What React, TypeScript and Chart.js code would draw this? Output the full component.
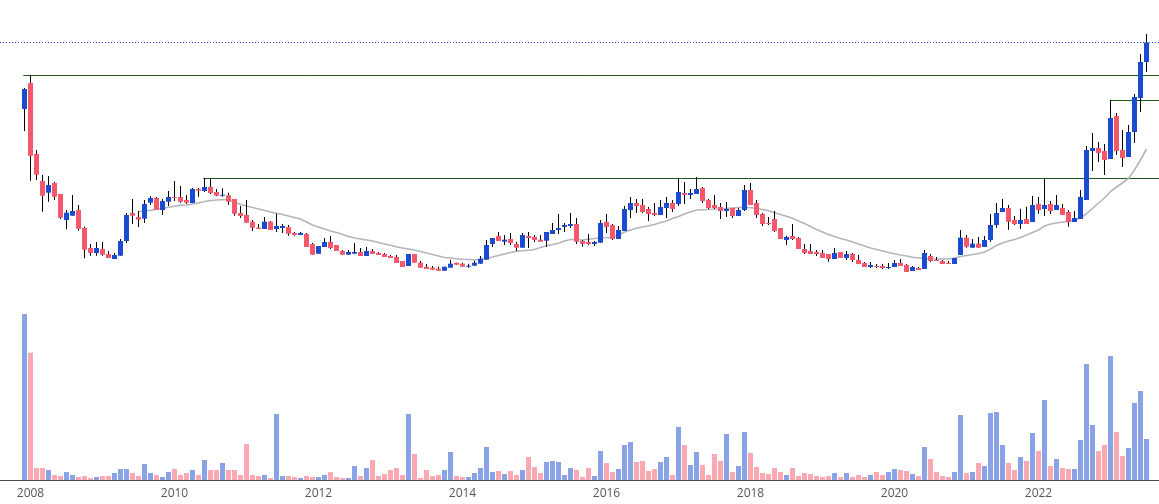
import React, { useEffect, useRef } from 'react';
import { Chart, registerables } from 'chart.js';

Chart.register(...registerables);

// Monthly bars: index 0 = Dec 2007 ... index 187 = Jul 2023
const tickIndex = [1, 25, 49, 73, 97, 121, 145, 169];
const tickLabels = ['2008', '2010', '2012', '2014', '2016', '2018', '2020', '2022'];

const open = [
  1910, 2170, 1460, 1190, 1073, 1170, 1060, 800, 843, 900,
  720, 520, 470, 510, 460, 410, 443, 590, 870, 830,
  813, 973, 1020, 900, 983, 1030, 1030, 1000, 970, 1110,
  1090, 1130, 1080, 1043, 1047, 1010, 870, 850, 783, 723,
  710, 783, 710, 720, 730, 670, 650, 660, 560, 463,
  530, 580, 550, 490, 453, 463, 480, 440, 490, 470,
  460, 440, 430, 390, 340, 460, 373, 333, 323, 313,
  293, 323, 373, 363, 333, 343, 363, 403, 560, 640,
  583, 610, 560, 523, 640, 630, 603, 593, 660, 700,
  730, 740, 760, 590, 580, 560, 573, 780, 750, 610,
  690, 900, 970, 950, 910, 870, 850, 920, 970, 960,
  1070, 1050, 1060, 1120, 1000, 950, 930, 890, 920, 840,
  900, 1100, 970, 860, 770, 810, 720, 600, 640, 620,
  510, 490, 480, 470, 460, 410, 480, 420, 460, 400,
  370, 330, 340, 340, 320, 330, 370, 350, 290, 320,
  310, 440, 400, 390, 370, 360, 450, 623, 523, 563,
  530, 600, 750, 880, 920, 800, 760, 810, 780, 960,
  910, 960, 900, 920, 880, 780, 810, 1000, 1490, 1520,
  1490, 1410, 1840, 1500, 1430, 1680, 2020, 2380,
];

const high = [
  2120, 2250, 1500, 1250, 1240, 1183, 1060, 900, 1050, 950,
  733, 560, 580, 580, 490, 470, 610, 870, 1010, 890,
  1000, 1040, 1030, 1010, 1090, 1190, 1140, 1050, 1120, 1120,
  1220, 1220, 1110, 1117, 1073, 1010, 940, 1000, 800, 760,
  830, 790, 863, 760, 750, 680, 680, 670, 570, 540,
  620, 640, 550, 500, 500, 570, 520, 530, 510, 480,
  470, 450, 450, 390, 460, 460, 390, 360, 340, 333,
  333, 403, 373, 373, 363, 393, 440, 600, 620, 680,
  650, 670, 580, 670, 680, 650, 650, 680, 770, 860,
  770, 870, 820, 600, 660, 590, 800, 860, 760, 740,
  940, 1030, 1010, 1010, 930, 970, 1000, 1030, 1000, 1220,
  1180, 1110, 1230, 1130, 1010, 1050, 970, 980, 920, 920,
  1150, 1170, 1000, 870, 830, 890, 720, 640, 760, 630,
  560, 560, 500, 500, 460, 520, 480, 490, 470, 450,
  380, 380, 360, 360, 370, 400, 410, 360, 340, 330,
  500, 460, 430, 400, 390, 420, 700, 650, 610, 630,
  640, 860, 970, 1010, 950, 840, 913, 933, 1040, 1030,
  1220, 990, 1050, 960, 900, 890, 1100, 1540, 1670, 1580,
  1560, 2000, 1870, 1700, 1750, 2060, 2460, 2660,
];

const low = [
  1690, 1193, 1200, 883, 983, 1000, 810, 707, 843, 693,
  417, 443, 443, 443, 420, 410, 443, 570, 760, 730,
  770, 950, 900, 850, 940, 990, 973, 960, 970, 1033,
  1080, 1060, 1037, 1033, 953, 843, 820, 773, 690, 710,
  710, 700, 680, 670, 643, 643, 650, 530, 453, 460,
  530, 510, 490, 453, 453, 463, 440, 440, 460, 450,
  430, 420, 370, 330, 340, 373, 323, 310, 303, 293,
  293, 323, 353, 333, 323, 343, 363, 403, 530, 590,
  550, 550, 490, 523, 520, 580, 583, 530, 660, 660,
  680, 720, 560, 533, 550, 540, 573, 670, 600, 610,
  690, 820, 870, 870, 790, 840, 850, 820, 880, 940,
  960, 1010, 1060, 970, 910, 910, 810, 830, 820, 840,
  890, 950, 820, 740, 750, 680, 610, 550, 600, 510,
  460, 460, 440, 420, 383, 410, 420, 400, 380, 360,
  330, 320, 320, 310, 310, 330, 340, 280, 290, 300,
  310, 380, 390, 360, 360, 360, 450, 523, 523, 523,
  530, 583, 723, 880, 703, 750, 710, 760, 780, 863,
  840, 860, 900, 850, 733, 780, 810, 1000, 1290, 1380,
  1250, 1410, 1450, 1330, 1430, 1570, 1880, 2280,
];

const close = [
  2110, 1443, 1253, 1043, 1150, 1033, 823, 873, 890, 713,
  503, 470, 520, 453, 420, 450, 590, 850, 843, 803,
  960, 1020, 900, 990, 1030, 1020, 983, 973, 1110, 1093,
  1130, 1070, 1043, 1053, 983, 863, 840, 773, 723, 710,
  783, 700, 740, 740, 663, 650, 670, 530, 453, 540,
  580, 520, 490, 453, 480, 480, 440, 490, 460, 450,
  430, 420, 370, 330, 460, 373, 323, 310, 303, 293,
  333, 363, 353, 333, 343, 373, 413, 550, 620, 590,
  603, 570, 523, 650, 620, 600, 583, 680, 700, 720,
  750, 760, 583, 560, 560, 580, 770, 730, 610, 700,
  910, 970, 940, 880, 860, 850, 930, 970, 910, 1080,
  1050, 1070, 1110, 990, 920, 920, 890, 910, 840, 900,
  1100, 950, 850, 760, 760, 690, 610, 630, 610, 510,
  470, 460, 460, 420, 410, 470, 420, 460, 400, 360,
  330, 350, 330, 320, 330, 370, 340, 280, 330, 300,
  470, 390, 390, 360, 360, 420, 623, 533, 563, 523,
  600, 750, 870, 920, 783, 760, 800, 760, 950, 900,
  950, 890, 950, 850, 780, 820, 1030, 1500, 1520, 1470,
  1400, 1820, 1490, 1420, 1680, 2030, 2380, 2575,
];

const volume = [
  1660, 1273, 120, 120, 100, 50, 40, 80, 50, 30,
  40, 20, 30, 40, 40, 70, 110, 110, 70, 40,
  160, 70, 50, 30, 80, 110, 50, 70, 100, 50,
  200, 100, 100, 170, 100, 100, 50, 360, 50, 40,
  50, 20, 660, 40, 40, 30, 20, 40, 30, 30,
  50, 80, 30, 20, 20, 140, 40, 120, 200, 40,
  60, 100, 120, 50, 660, 260, 20, 100, 40, 50,
  100, 280, 40, 30, 30, 70, 120, 330, 80, 90,
  60, 90, 50, 100, 230, 130, 70, 180, 190, 180,
  50, 120, 100, 30, 120, 40, 290, 170, 80, 110,
  350, 380, 180, 190, 90, 110, 180, 230, 50, 530,
  350, 150, 280, 150, 50, 260, 190, 460, 80, 140,
  480, 270, 130, 70, 60, 120, 80, 50, 120, 40,
  70, 60, 40, 30, 40, 70, 30, 70, 30, 50,
  30, 50, 80, 50, 80, 110, 100, 90, 60, 40,
  330, 210, 80, 40, 30, 80, 650, 70, 80, 170,
  140, 670, 680, 350, 170, 100, 230, 190, 470, 290,
  800, 140, 210, 120, 110, 110, 400, 1160, 550, 290,
  350, 1240, 480, 240, 320, 770, 890, 410,
];

// 20-bar moving average as drawn (first value at index 19)
const maStart = 19;
const maValues = [
  883, 890, 897, 907, 917, 927, 937, 947, 950, 960,
  970, 985, 995, 1000, 1005, 1000, 980, 955, 940, 925,
  910, 895, 880, 867, 855, 840, 825, 810, 780, 750,
  730, 710, 690, 675, 655, 635, 620, 610, 600, 590,
  575, 560, 547, 532, 520, 510, 500, 485, 470, 455,
  440, 425, 420, 413, 407, 405, 402, 405, 415, 430,
  445, 460, 475, 487, 492, 497, 505, 525, 543, 555,
  567, 590, 605, 605, 600, 607, 615, 620, 622, 627,
  650, 680, 700, 717, 730, 742, 755, 775, 790, 815,
  835, 860, 880, 900, 902, 905, 907, 910, 915, 920,
  925, 927, 923, 917, 905, 892, 872, 855, 837, 817,
  790, 765, 735, 705, 680, 655, 635, 615, 600, 580,
  560, 540, 520, 505, 490, 475, 462, 450, 440, 427,
  420, 415, 410, 410, 410, 410, 420, 435, 445, 455,
  465, 480, 510, 545, 570, 590, 605, 625, 650, 675,
  700, 740, 760, 770, 780, 785, 800, 820, 865, 915,
  970, 1020, 1085, 1130, 1170, 1215, 1300, 1400, 1510,
];

// Horizontal resistance lines: level and starting bar
const levelValues = [2245, 1215, 1995];
const levelStarts = [-0.2, 29.8, 181];

const X_MIN = -4.0833;
const X_MAX = 189.0833;

const UP = '#1b4bd1';
const DOWN = '#f5576b';
const VOL_UP = '#8aa3e6';
const VOL_DOWN = '#faa8b1';
const GREEN = '#1d5a1f';
const DOT_BLUE = '#2d52d6';

export default function App() {
  const ref = useRef<HTMLCanvasElement | null>(null);

  useEffect(() => {
    if (!ref.current) return;
    const idx = open.map((_, i) => i);
    const isUp = idx.map((i) => close[i] >= open[i]);
    const lastClose = close[close.length - 1];

    const levelSets = levelValues.map((lv, k) => ({
      type: 'line' as const,
      label: 'level' + k,
      data: [
        { x: levelStarts[k], y: lv },
        { x: X_MAX, y: lv },
      ],
      borderColor: GREEN,
      borderWidth: 1,
      pointRadius: 0,
      yAxisID: 'y',
      order: 10,
    }));

    const chart = new Chart(ref.current, {
      type: 'bar',
      data: {
        datasets: [
          ...levelSets,
          {
            type: 'line',
            label: 'last',
            data: [
              { x: X_MIN, y: lastClose },
              { x: X_MAX, y: lastClose },
            ],
            borderColor: DOT_BLUE,
            borderWidth: 1,
            borderDash: [1, 2],
            pointRadius: 0,
            yAxisID: 'y',
            order: 10,
          },
          {
            type: 'line',
            label: 'MA20',
            data: maValues.map((v, k) => ({ x: maStart + k, y: v })),
            borderColor: '#b4b4bf',
            borderWidth: 1.6,
            pointRadius: 0,
            tension: 0,
            yAxisID: 'y',
            order: 9,
          },
          {
            type: 'bar',
            label: 'volume',
            data: idx.map((i) => ({ x: i, y: volume[i] })),
            backgroundColor: idx.map((i) => (isUp[i] ? VOL_UP : VOL_DOWN)),
            borderWidth: 0,
            grouped: false,
            barThickness: 5,
            maxBarThickness: 5,
            inflateAmount: 0,
            yAxisID: 'yv',
            order: 8,
          },
          {
            type: 'bar',
            label: 'wick',
            data: idx.map((i) => ({ x: i, y: [low[i], high[i]] })),
            backgroundColor: '#000000',
            borderWidth: 0,
            grouped: false,
            barThickness: 1,
            maxBarThickness: 1,
            inflateAmount: 0,
            yAxisID: 'y',
            order: 5,
          },
          {
            type: 'bar',
            label: 'body',
            data: idx.map((i) => ({ x: i, y: [open[i], close[i]] })),
            backgroundColor: idx.map((i) => (isUp[i] ? UP : DOWN)),
            borderWidth: 0,
            grouped: false,
            barThickness: 5,
            maxBarThickness: 5,
            inflateAmount: 0,
            yAxisID: 'y',
            order: 4,
          },
        ] as any,
      },
      options: {
        animation: false,
        responsive: false,
        devicePixelRatio: 1,
        layout: { padding: 0 },
        plugins: {
          legend: { display: false },
          tooltip: { enabled: false },
        },
        scales: {
          x: {
            type: 'linear',
            min: X_MIN,
            max: X_MAX,
            offset: false,
            grid: { display: false, drawTicks: false },
            border: { display: true, color: '#4a4a4a', width: 1 },
            afterBuildTicks: (scale: any) => {
              scale.ticks = tickIndex.map((v) => ({ value: v }));
            },
            afterFit: (scale: any) => {
              scale.height = 24;
            },
            ticks: {
              autoSkip: false,
              maxRotation: 0,
              padding: 6,
              color: '#555560',
              font: { family: "'Open Sans', sans-serif", size: 12 },
              callback: (value: any) => {
                const k = tickIndex.indexOf(Number(value));
                return k >= 0 ? tickLabels[k] : '';
              },
            },
          },
          y: {
            type: 'linear',
            display: false,
            min: -1800,
            max: 3000,
          },
          yv: {
            type: 'linear',
            display: false,
            min: 0,
            max: 4800,
          },
        },
      } as any,
    });
    return () => chart.destroy();
  }, []);

  return (
    <div style={{ position: 'fixed', left: 0, top: 0, width: 1159, height: 504, background: '#ffffff' }}>
      <canvas ref={ref} width={1159} height={504} style={{ display: 'block' }} />
    </div>
  );
}
